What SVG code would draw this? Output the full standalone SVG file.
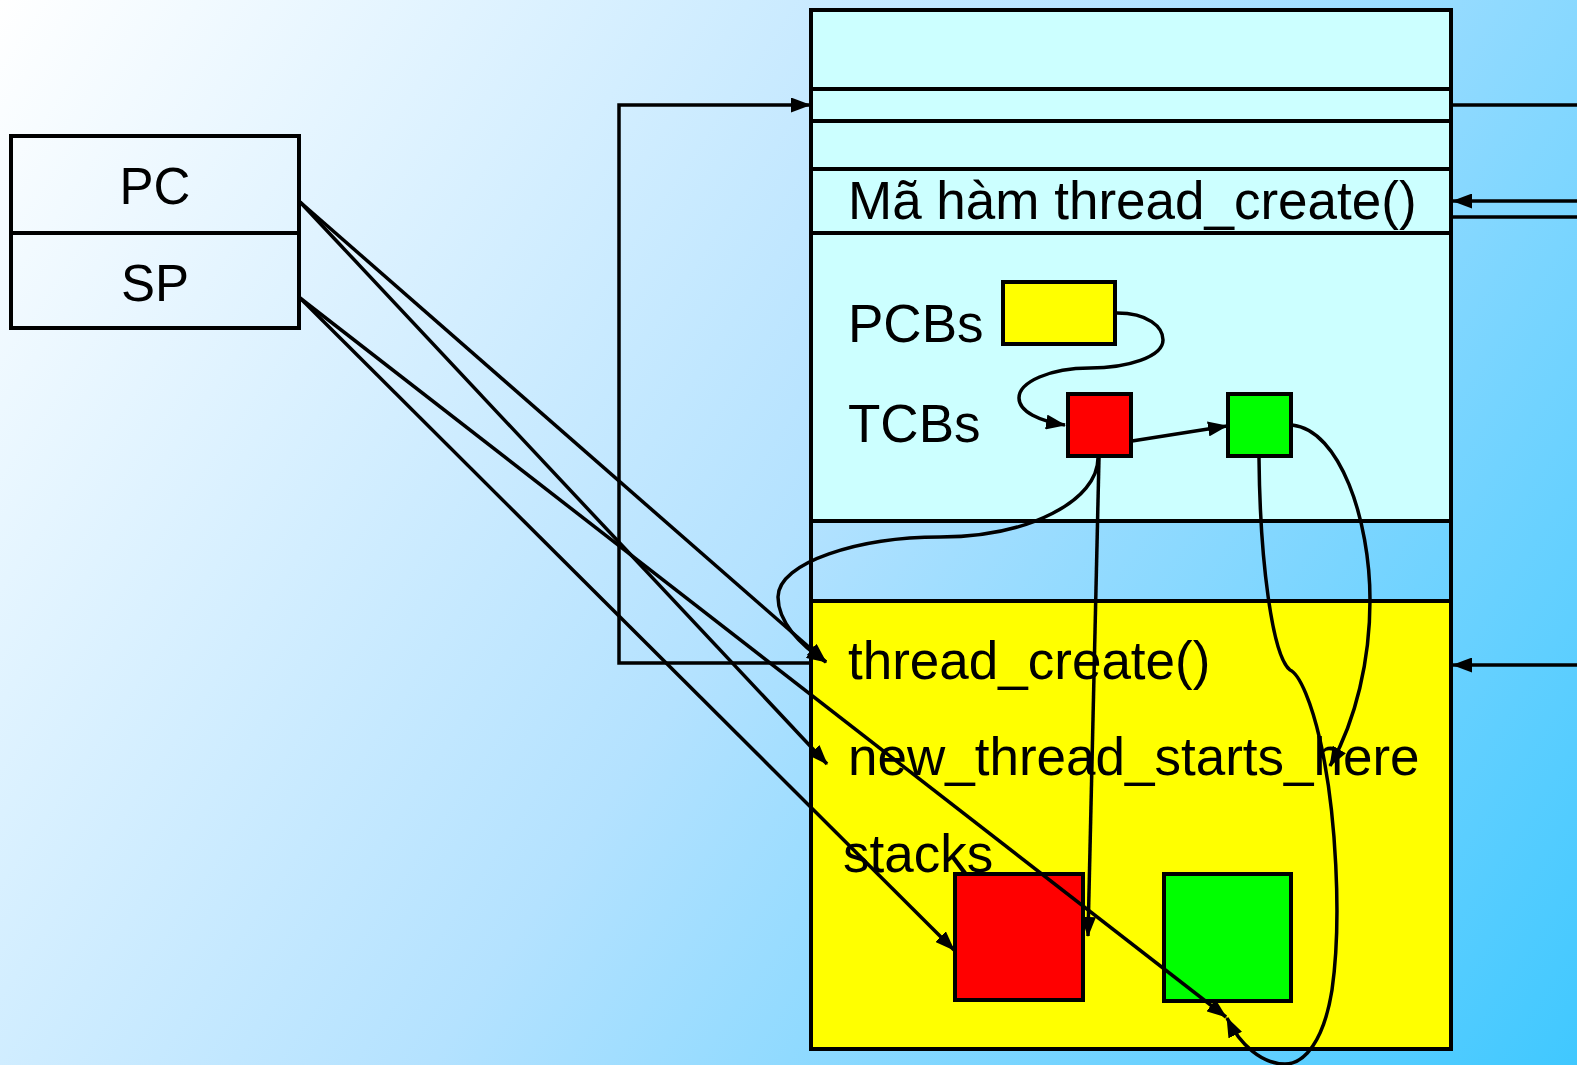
<svg xmlns="http://www.w3.org/2000/svg" width="1577" height="1065" viewBox="0 0 1577 1065">
<defs>
<linearGradient id="bg" gradientUnits="userSpaceOnUse" x1="0" y1="0" x2="1577" y2="1065">
<stop offset="0" stop-color="#FFFFFF"/>
<stop offset="0.5" stop-color="#B4E2FF"/>
<stop offset="1" stop-color="#40C8FF"/>
</linearGradient>
<marker id="ah" markerUnits="userSpaceOnUse" markerWidth="20" markerHeight="15" refX="19" refY="7.5" orient="auto" viewBox="0 0 20 15">
<path d="M0,0 L20,7.5 L0,15 z" fill="#000"/>
</marker>
<style>
.box{stroke:#000;stroke-width:4}
.t{font-family:"Liberation Sans",Arial,sans-serif;font-size:53px;fill:#000}
.reg{font-family:"Liberation Sans",Arial,sans-serif;font-size:51px;fill:#000;text-anchor:middle}
.c{fill:none;stroke:#000;stroke-width:3.5}
.ca{fill:none;stroke:#000;stroke-width:3.5;marker-end:url(#ah)}
</style>
</defs>
<rect x="0" y="0" width="1577" height="1065" fill="url(#bg)"/>

<g id="registers">
<rect class="box" x="11" y="136" width="288" height="192" fill="none"/>
<line class="box" x1="11" y1="233" x2="299" y2="233"/>
<text class="reg" x="155" y="204">PC</text>
<text class="reg" x="155" y="301">SP</text>
</g>

<g id="memory">
<rect x="811" y="10" width="640" height="511" fill="#CCFFFF"/>
<rect x="811" y="601" width="640" height="448" fill="#FFFF00"/>
<rect class="box" x="811" y="10" width="640" height="1039" fill="none"/>
<line class="box" x1="811" y1="89" x2="1451" y2="89"/>
<line class="box" x1="811" y1="121" x2="1451" y2="121"/>
<line class="box" x1="811" y1="169" x2="1451" y2="169"/>
<line class="box" x1="811" y1="233" x2="1451" y2="233"/>
<line class="box" x1="811" y1="521" x2="1451" y2="521"/>
<line class="box" x1="811" y1="601" x2="1451" y2="601"/>
<text class="t" x="848" y="219">Mã hàm thread_create()</text>
<text class="t" x="848" y="342">PCBs</text>
<text class="t" x="848" y="442">TCBs</text>
<text class="t" x="848" y="679">thread_create()</text>
<text class="t" x="848" y="775">new_thread_starts_here</text>
<text class="t" x="843" y="872">stacks</text>
</g>

<g id="pcb">
<rect class="box" x="1003" y="282" width="112" height="62" fill="#FFFF00"/>
</g>
<g id="tcb-red">
<rect class="box" x="1068" y="394" width="63" height="62" fill="#FF0000"/>
</g>
<g id="tcb-green">
<rect class="box" x="1228" y="394" width="63" height="62" fill="#00FF00"/>
</g>
<g id="stack-red">
<rect class="box" x="955" y="874" width="128" height="126" fill="#FF0000"/>
</g>
<g id="stack-green">
<rect class="box" x="1164" y="874" width="127" height="127" fill="#00FF00"/>
</g>

<g id="connectors">
<polyline class="ca" points="811,663 619,663 619,105 810,105"/>
<line class="c" x1="1451" y1="105" x2="1577" y2="105"/>
<line class="ca" x1="1577" y1="201" x2="1453" y2="201"/>
<line class="c" x1="1451" y1="217" x2="1577" y2="217"/>
<line class="ca" x1="1577" y1="665" x2="1453" y2="665"/>

<line class="ca" x1="300" y1="202" x2="826" y2="662"/>
<line class="ca" x1="300" y1="202" x2="827" y2="764"/>
<line class="ca" x1="300" y1="298" x2="954" y2="950"/>
<line class="ca" x1="300" y1="298" x2="1226" y2="1017"/>

<path class="ca" d="M1117,313 C1148,313 1163,327 1163,340 C1163,357 1127,368 1090,368 C1050,368 1019,382 1019,398 C1019,412 1040,421 1065,425"/>
<line class="ca" x1="1132" y1="441" x2="1227" y2="426"/>
<path class="ca" d="M1098,458 C1098,500 1030,537 940,537 C860,537 778,562 778,597 C778,622 800,645 826,662"/>
<line class="ca" x1="1099" y1="458" x2="1088" y2="936"/>
<path class="ca" d="M1259,458 C1260,560 1272,655 1290,670 C1300,674 1312,705 1320,740 C1336,810 1342,920 1332,990 C1324,1040 1305,1064 1285,1064 C1262,1064 1240,1045 1227,1018"/>
<path class="ca" d="M1292,425 C1340,430 1370,520 1370,600 C1370,660 1356,720 1330,766"/>
</g>
</svg>
